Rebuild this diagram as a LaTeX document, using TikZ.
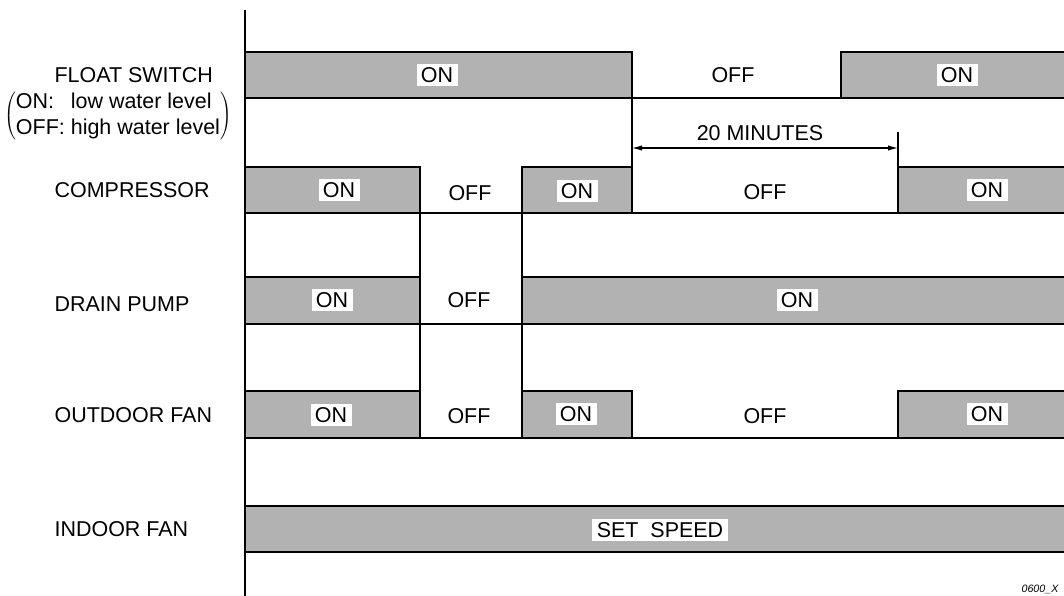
\documentclass[tikz,border=0pt]{standalone}
\usepackage{fontspec}
\setmainfont{Liberation Sans}
\usepackage{tikz}
\usetikzlibrary{arrows.meta}
\definecolor{ongray}{gray}{0.70}
\newcommand{\onbox}[4]{ \draw[fill=ongray] ( #1 , #2 ) rectangle ( #3 , #4 );}
\newcommand{\statelabl}[4]{\node[fill=white, inner xsep=3.3pt, inner ysep=2.4pt, text height=11.5pt, text depth=0pt] (#1) at ( #2 , #3 ) {#4};}
\newcommand{\offlabl}[4]{\node[inner sep=0pt] (#1) at ( #2 , #3 ) {#4};}
\newcommand{\rowlabl}[4]{\node[anchor=west, inner sep=0pt] (#1) at ( #2 , #3 ) {#4};}

\begin{document}
\begin{tikzpicture}[x=0.75pt, y=-0.75pt, line width=0.9pt, font=\fontsize{16.1}{19.5}\selectfont]
        \useasboundingbox (0,0) rectangle (1064,596);
        \clip (0,0) rectangle (1064,596);
        % time axis
        \draw (245,10) -- (245,596);
        % float switch
        \onbox{245}{52}{632}{98}
        \onbox{841}{52}{1070}{98}
        \draw (245,98) -- (1070,98);
        % compressor
        \onbox{245}{167}{420}{213}
        \onbox{522}{167}{632}{213}
        \onbox{898}{167}{1070}{213}
        \draw (245,213) -- (1070,213);
        % drain pump
        \onbox{245}{277}{420}{324}
        \onbox{522}{277}{1070}{324}
        \draw (420,213) -- (420,277);
        \draw (522,213) -- (522,277);
        \draw (245,324) -- (1070,324);
        % outdoor fan
        \onbox{245}{391}{420}{438}
        \onbox{522}{391}{632}{438}
        \onbox{898}{391}{1070}{438}
        \draw (420,324) -- (420,391);
        \draw (522,324) -- (522,391);
        \draw (245,438) -- (1070,438);
        % indoor fan
        \onbox{245}{506}{1070}{552}
        % 20 minutes
        \coordinate (tstart) at (632,148);
        \coordinate (tend) at (898,148);
        \draw (632,98) -- (632,167);
        \draw (898,132) -- (898,167);
        \draw[{Latex[length=7.5pt,width=4pt]}-{Latex[length=7.5pt,width=4pt]}] (tstart) -- (tend);
        \node (tmin) at (760,133) {20 MINUTES};
        % labels for float switch
        \statelabl{fson1}{437}{75}{ON}
        \offlabl{fsoff}{733}{75}{OFF}
        \statelabl{fson2}{957}{75}{ON}
        % labels for compressor
        \statelabl{cpon1}{339}{190}{ON}
        \offlabl{cpoff1}{470}{193}{OFF}
        \statelabl{cpon2}{577}{191}{ON}
        \offlabl{cpoff2}{765}{192}{OFF}
        \statelabl{cpon3}{987}{190}{ON}
        % labels for drain pump
        \statelabl{dpon1}{332}{300}{ON}
        \offlabl{dpoff}{469}{300}{OFF}
        \statelabl{dpon2}{797}{300}{ON}
        % labels for outdoor fan
        \statelabl{ofon1}{331}{415}{ON}
        \offlabl{ofoff1}{469}{416}{OFF}
        \statelabl{ofon2}{576}{414}{ON}
        \offlabl{ofoff2}{765}{416}{OFF}
        \statelabl{ofon3}{987}{414}{ON}
        % label for indoor fan
        \statelabl{ifset}{660}{530}{SET\ \ SPEED}
        % row names
        \rowlabl{fsw}{54}{75}{FLOAT SWITCH}
        \node[inner sep=0pt] (fswnote) at (118,116) {$\left(\mbox{\begin{tabular}{@{}l@{\ }l@{}}ON: & low water level\\ OFF: & high water level\end{tabular}}\right)$};
        \rowlabl{comp}{54}{190}{COMPRESSOR}
        \rowlabl{drain}{54}{304}{DRAIN PUMP}
        \rowlabl{ofan}{54}{415}{OUTDOOR FAN}
        \rowlabl{ifan}{54}{529}{INDOOR FAN}
        \node[anchor=west, inner sep=0pt, font=\itshape\fontsize{8}{9}\selectfont] (figid) at (1021,589) {0600\_X};
    \end{tikzpicture}
\end{document}
